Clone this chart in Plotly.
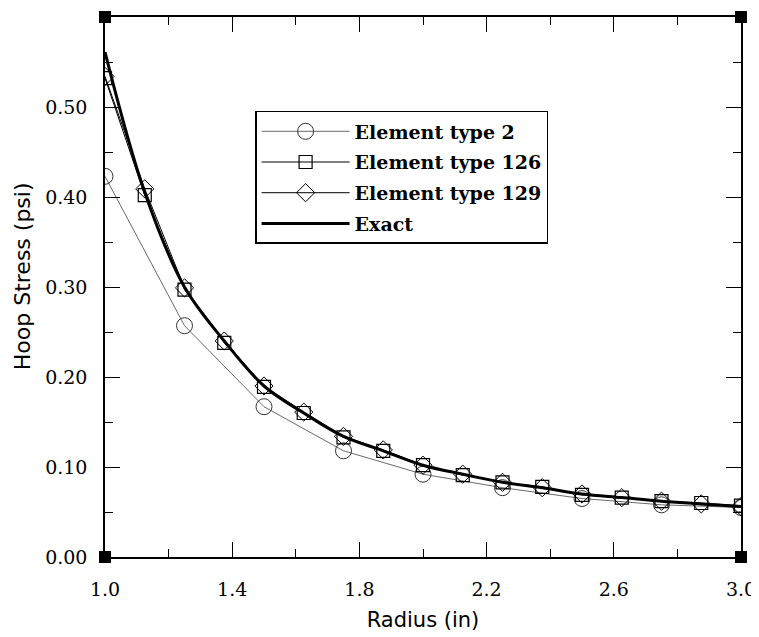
import plotly.graph_objects as go

# Radius values (in)
r_fine = [1.0, 1.125, 1.25, 1.375, 1.5, 1.625, 1.75, 1.875, 2.0,
          2.125, 2.25, 2.375, 2.5, 2.625, 2.75, 2.875, 3.0]
r_coarse = [1.0, 1.25, 1.5, 1.75, 2.0, 2.25, 2.5, 2.75, 3.0]

# Hoop stress (psi)
elem2 = [0.423, 0.257, 0.167, 0.118, 0.092, 0.077, 0.065, 0.058, 0.055]
elem126 = [0.532, 0.402, 0.297, 0.238, 0.189, 0.160, 0.133, 0.118, 0.102,
           0.091, 0.083, 0.078, 0.069, 0.066, 0.062, 0.060, 0.057]
elem129 = [0.534, 0.409, 0.299, 0.240, 0.190, 0.161, 0.134, 0.119, 0.102,
           0.092, 0.083, 0.077, 0.070, 0.066, 0.062, 0.059, 0.056]
exact = [0.561, 0.405, 0.300, 0.240, 0.190, 0.160, 0.134, 0.118, 0.102,
         0.092, 0.083, 0.077, 0.070, 0.066, 0.062, 0.059, 0.056]

x_ticks = [1.0, 1.4, 1.8, 2.2, 2.6, 3.0]
y_ticks = [0.0, 0.1, 0.2, 0.3, 0.4, 0.5]

TICK_FONT = dict(family="DejaVu Serif, serif", size=19, color="black")

fig = go.Figure()

fig.add_trace(go.Scatter(
    x=r_coarse, y=elem2, mode="lines+markers", name="Element type 2",
    legendgroup="a",
    line=dict(color="#444444", width=0.8),
    marker=dict(symbol="circle-open", size=16, color="#333333", line=dict(width=1)),
))
fig.add_trace(go.Scatter(
    x=r_fine, y=elem126, mode="lines+markers", name="Element type 126",
    legendgroup="b",
    line=dict(color="black", width=1),
    marker=dict(symbol="square-open", size=13, color="black", line=dict(width=1.2)),
))
fig.add_trace(go.Scatter(
    x=r_fine, y=elem129, mode="lines+markers", name="Element type 129",
    legendgroup="c",
    line=dict(color="black", width=1),
    marker=dict(symbol="diamond-open", size=14, color="black", line=dict(width=1)),
))
fig.add_trace(go.Scatter(
    x=r_fine, y=exact, mode="lines", name="Exact",
    legendgroup="d",
    line=dict(color="black", width=3, shape="spline", smoothing=1.0),
))

# corner squares
for xr, yr in [(0, 0), (1, 0), (0, 1), (1, 1)]:
    fig.add_shape(type="rect", xref="paper", yref="paper",
                  xsizemode="pixel", ysizemode="pixel",
                  xanchor=xr, yanchor=yr,
                  x0=-6, x1=6, y0=-6, y1=6,
                  fillcolor="black", line=dict(color="black", width=0))

fig.add_annotation(
    text="Hoop Stress (psi)", textangle=-90,
    xref="paper", yref="paper", x=-0.1305, y=0.52,
    xanchor="center", yanchor="middle", showarrow=False,
    font=dict(family="DejaVu Sans, sans-serif", size=22, color="black"),
)

# the page body adds an 8px offset; margins compensate for it
fig.update_layout(
    width=759, height=637,
    margin=dict(l=97, r=26, t=7, b=88),
    paper_bgcolor="white", plot_bgcolor="white",
    font=dict(family="DejaVu Serif, serif", color="black"),
    showlegend=True,
    legend=dict(
        x=0.236, y=0.826, xanchor="left", yanchor="top",
        bgcolor="white", bordercolor="black", borderwidth=1.5,
        font=dict(family="DejaVu Serif, serif", size=19, color="black", weight="bold"),
        traceorder="grouped", tracegroupgap=3, itemwidth=88,
    ),
)

fig.update_xaxes(
    range=[1.0, 3.0], tickvals=x_ticks, tickformat=".1f",
    showgrid=False, zeroline=False,
    showline=True, linecolor="black", linewidth=1.5, mirror="ticks",
    ticks="inside", ticklen=15, tickwidth=1.2, tickcolor="black",
    minor=dict(dtick=0.2, tick0=1.0, ticks="inside", ticklen=8, tickwidth=1.2, tickcolor="black"),
    tickfont=TICK_FONT, ticklabelstandoff=14,
    title=dict(text="Radius (in)", font=dict(family="DejaVu Sans, sans-serif", size=21, color="black"), standoff=14),
)
fig.update_yaxes(
    range=[0.0, 0.6], tickvals=y_ticks, tickformat=".2f",
    showgrid=False, zeroline=False,
    showline=True, linecolor="black", linewidth=1.5, mirror="ticks",
    ticks="inside", ticklen=15, tickwidth=1.2, tickcolor="black",
    minor=dict(dtick=0.05, tick0=0.0, ticks="inside", ticklen=8, tickwidth=1.2, tickcolor="black"),
    tickfont=TICK_FONT, ticklabelstandoff=12,
)

fig.write_html("out.html")
